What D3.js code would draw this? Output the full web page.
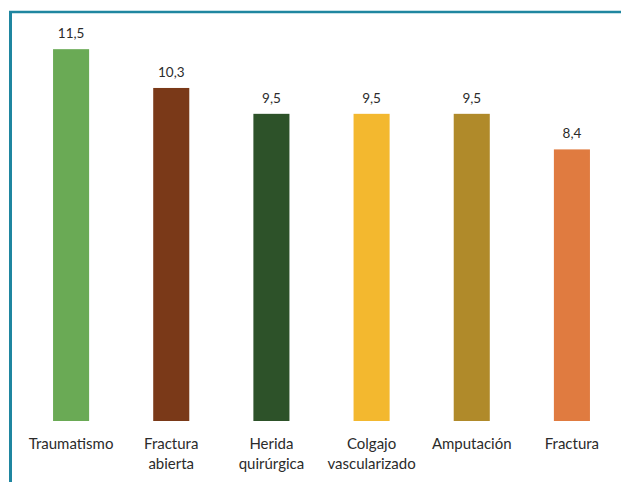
<!DOCTYPE html>
<html>
<head>
<meta charset="utf-8">
<script src="https://cdn.jsdelivr.net/npm/d3@7"></script>
<style>
  html, body { margin: 0; padding: 0; background: #fff; }
  svg { display: block; }
</style>
</head>
<body>
<svg id="chart" width="621" height="482"></svg>
<script>
// Categories (multi-line labels), values and bar colours
const categories = [
  ["Traumatismo"],
  ["Fractura", "abierta"],
  ["Herida", "quirúrgica"],
  ["Colgajo", "vascularizado"],
  ["Amputación"],
  ["Fractura"]
];
const values = [11.5, 10.3, 9.5, 9.5, 9.5, 8.4];
const colors = ["#6aaa55", "#7a3918", "#2d5229", "#f3b82f", "#b08a2a", "#e07b40"];
const valueLabels = ["11,5", "10,3", "9,5", "9,5", "9,5", "8,4"];

const svg = d3.select("#chart");
const W = 621, H = 482;
const font = "Lato, 'Open Sans', sans-serif";

// Frame: teal top and left rules
svg.append("line")
  .attr("x1", 9).attr("x2", W).attr("y1", 12).attr("y2", 12)
  .attr("stroke", "#1f86a0").attr("stroke-width", 2.5);
svg.append("line")
  .attr("x1", 10.5).attr("x2", 10.5).attr("y1", 11).attr("y2", H)
  .attr("stroke", "#1f86a0").attr("stroke-width", 3);

const idx = d3.range(values.length);
const x = d3.scaleBand()
  .domain(idx)
  .range([21, 622])
  .paddingInner(0.64)
  .paddingOuter(0.32);

const y = d3.scaleLinear().domain([0, 12]).range([421, 33]);

// Bars
svg.append("g").selectAll("rect")
  .data(idx)
  .join("rect")
  .attr("x", i => x(i))
  .attr("width", x.bandwidth())
  .attr("y", i => y(values[i]))
  .attr("height", i => y(0) - y(values[i]))
  .attr("fill", i => colors[i]);

// Value labels above the bars
svg.append("g").selectAll("text")
  .data(idx)
  .join("text")
  .attr("x", i => x(i) + x.bandwidth() / 2)
  .attr("y", i => y(values[i]) - 11)
  .attr("text-anchor", "middle")
  .attr("font-family", font)
  .attr("font-size", 13.5)
  .attr("fill", "#2b2b2b")
  .text(i => valueLabels[i]);

// Category labels under the bars
const cat = svg.append("g").selectAll("text")
  .data(idx)
  .join("text")
  .attr("text-anchor", "middle")
  .attr("font-family", font)
  .attr("font-size", 15)
  .attr("fill", "#2b2b2b");
cat.selectAll("tspan")
  .data(i => categories[i].map(t => ({ t, cx: x(i) + x.bandwidth() / 2 })))
  .join("tspan")
  .attr("x", d => d.cx)
  .attr("y", (d, j) => 449 + j * 20)
  .text(d => d.t);
</script>
</body>
</html>
